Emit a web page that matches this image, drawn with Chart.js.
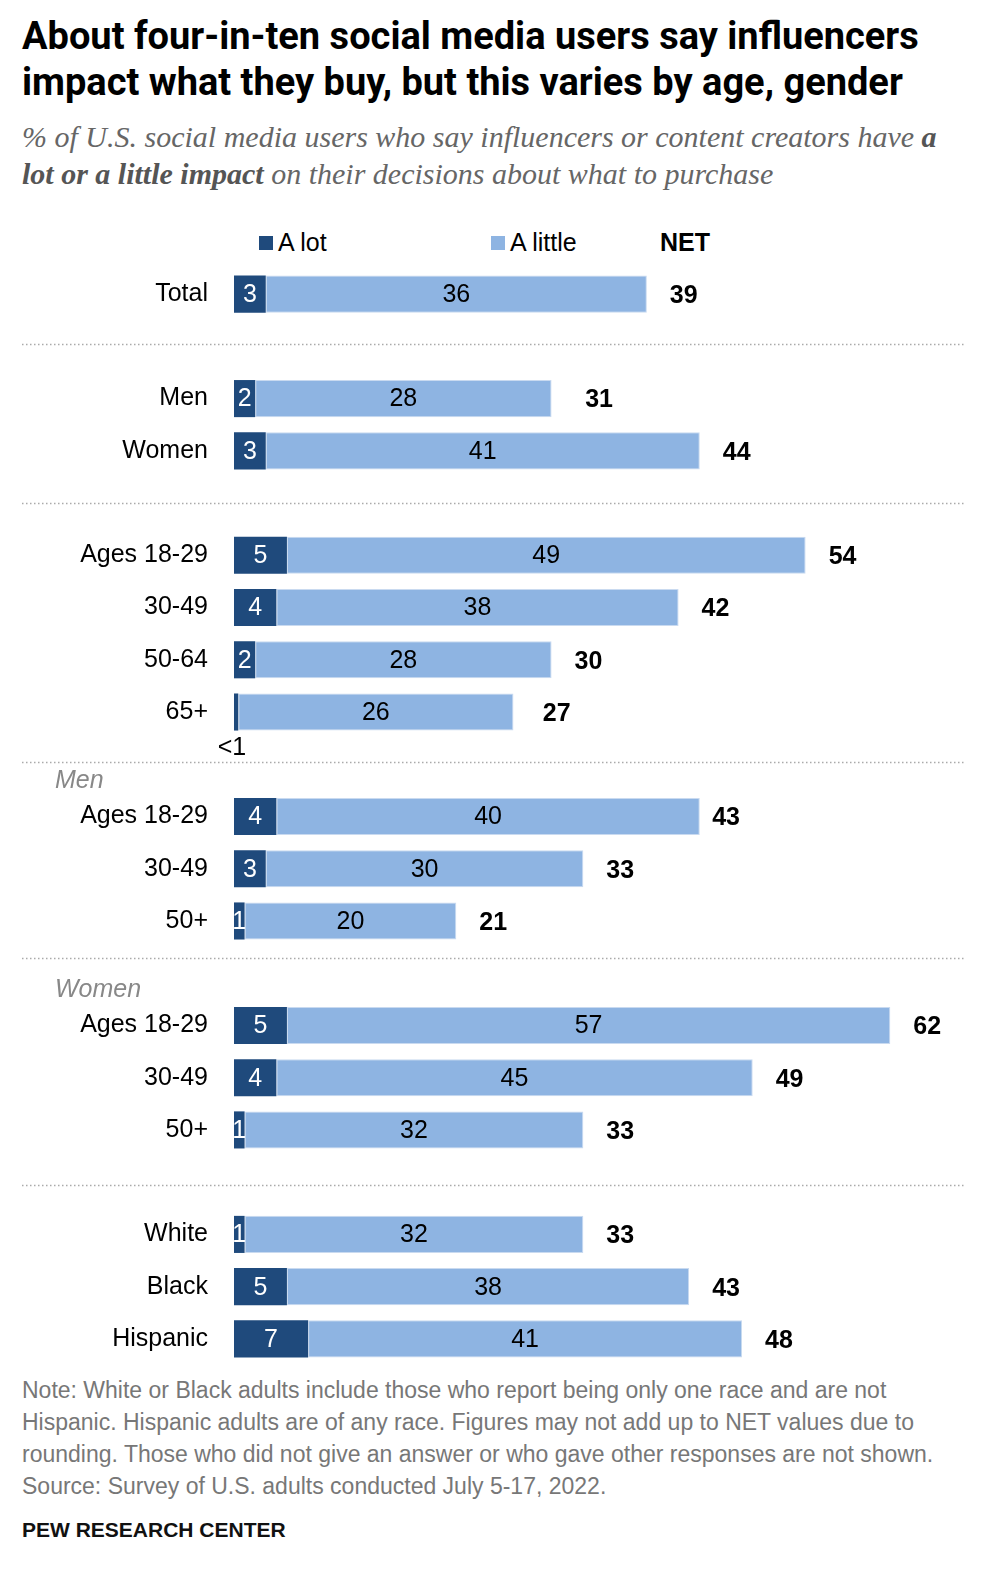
<!DOCTYPE html>
<html>
<head>
<meta charset="utf-8">
<script src="https://cdn.jsdelivr.net/npm/chart.js@4.4.0/dist/chart.umd.min.js"></script>
<style>
  body { margin: 0; background: #fff; width: 1000px; height: 1595px; position: relative; overflow: hidden; }
  .title { position: absolute; left: 22px; top: 13px; font-family: "Roboto", sans-serif; font-weight: bold; font-size: 38px; line-height: 46px; color: #000; white-space: nowrap; }
  .subtitle { position: absolute; left: 22px; top: 118px; font-family: "Liberation Serif", serif; font-style: italic; font-size: 30px; line-height: 37px; color: #666; white-space: nowrap; }
  .subtitle b { color: #555; }
  .legend { position: absolute; top: 228px; font-family: "Liberation Sans", Arial, sans-serif; font-size: 25px; color: #000; white-space: nowrap; }
  .legend .sw { display: inline-block; width: 14px; height: 14px; margin-right: 5px; vertical-align: 1px; }
  .note { position: absolute; left: 22px; top: 1374px; font-family: "Liberation Sans", sans-serif; font-size: 23px; line-height: 32px; color: #777; white-space: nowrap; }
  .brand { position: absolute; left: 22px; top: 1518px; font-family: "Liberation Sans", sans-serif; font-weight: bold; font-size: 21px; color: #111; }
  #wrap { position: absolute; left: 0; top: 268px; width: 1000px; height: 1097px; }
</style>
</head>
<body>
<div class="title">About four-in-ten social media users say influencers<br>impact what they buy, but this varies by age, gender</div>
<div class="subtitle">% of U.S. social media users who say influencers or content creators have <b>a</b><br><b>lot or a little impact</b> on their decisions about what to purchase</div>
<div class="legend" style="left:259px"><span class="sw" style="background:#1f4a7c"></span>A lot</div>
<div class="legend" style="left:491px"><span class="sw" style="background:#8eb4e2"></span>A little</div>
<div class="legend" style="left:660px;font-weight:bold">NET</div>
<div id="wrap"><canvas id="chart"></canvas></div>
<div class="note">Note: White or Black adults include those who report being only one race and are not<br>Hispanic. Hispanic adults are of any race. Figures may not add up to NET values due to<br>rounding. Those who did not give an answer or who gave other responses are not shown.<br>Source: Survey of U.S. adults conducted July 5-17, 2022.</div>
<div class="brand">PEW RESEARCH CENTER</div>
<script>
// rows; '' entries are spacer rows between groups
const categories = ['Total', '', 'Men', 'Women', '', 'Ages 18-29', '30-49', '50-64', '65+', '',
  'Ages 18-29', '30-49', '50+', '', 'Ages 18-29', '30-49', '50+', '', 'White', 'Black', 'Hispanic'];
const aLot = [3, null, 2, 3, null, 5, 4, 2, 0.4, null, 4, 3, 1, null, 5, 4, 1, null, 1, 5, 7];
const aLotLabels = ['3', '', '2', '3', '', '5', '4', '2', '<1', '', '4', '3', '1', '', '5', '4', '1', '', '1', '5', '7'];
const aLittle = [36, null, 28, 41, null, 49, 38, 28, 26, null, 40, 30, 20, null, 57, 45, 32, null, 32, 38, 41];
const net = [39, null, 31, 44, null, 54, 42, 30, 27, null, 43, 33, 21, null, 62, 49, 33, null, 33, 43, 48];

// separators sit in spacer rows; small pixel nudges
const separators = [{ row: 1, dy: -2 }, { row: 4, dy: 0 }, { row: 9, dy: -2 }, { row: 13, dy: -15 }, { row: 17, dy: 3 }];
const groupHeads = [{ row: 10, text: 'Men' }, { row: 14, text: 'Women' }];

const darkBlue = '#1f4a7c';
const lightBlue = '#8eb4e2';
const labelFont = '"Liberation Sans", Arial, sans-serif';

const extras = {
  id: 'extras',
  afterDatasetsDraw(chart) {
    const c = chart.ctx;
    const y = chart.scales.y;
    const x = chart.scales.x;
    c.save();
    // dotted separators
    c.strokeStyle = '#aaa';
    c.lineWidth = 1.5;
    c.setLineDash([1.5, 2.5]);
    separators.forEach(s => {
      const py = Math.round(y.getPixelForValue(s.row) + s.dy) + 0.5;
      c.beginPath();
      c.moveTo(22, py);
      c.lineTo(965, py);
      c.stroke();
    });
    c.setLineDash([]);

    // group heads
    c.font = 'italic 25px ' + labelFont;
    c.fillStyle = '#888';
    c.textAlign = 'left';
    c.textBaseline = 'middle';
    groupHeads.forEach(g => {
      c.fillText(g.text, 55, y.getPixelForValue(g.row) - 35);
    });

    // bar labels
    const m0 = chart.getDatasetMeta(0);
    const m1 = chart.getDatasetMeta(1);
    categories.forEach((cat, i) => {
      if (aLot[i] == null) return;
      const b0 = m0.data[i];
      const b1 = m1.data[i];
      c.font = '25px ' + labelFont;
      c.textAlign = 'center';
      if (aLotLabels[i] === '<1') {
        c.fillStyle = '#000';
        c.fillText('<1', b0.base - 2, b0.y + 36);
      } else {
        c.fillStyle = '#fff';
        c.fillText(aLotLabels[i], (b0.base + b0.x) / 2, b0.y + 1);
      }
      c.fillStyle = '#000';
      c.fillText(String(aLittle[i]), (b1.base + b1.x) / 2, b1.y + 1);
      c.font = 'bold 25px ' + labelFont;
      c.textAlign = 'left';
      c.fillText(String(net[i]), x.getPixelForValue(net[i]) + 23, b1.y + 2);
    });
    c.restore();
  }
};

new Chart(document.getElementById('chart'), {
  type: 'bar',
  data: {
    labels: categories,
    datasets: [
      { label: 'A lot', data: aLot, backgroundColor: darkBlue, borderWidth: 0 },
      { label: 'A little', data: aLittle, backgroundColor: lightBlue, borderColor: '#c9daf0', borderWidth: 1, borderSkipped: false }
    ]
  },
  options: {
    indexAxis: 'y',
    responsive: true,
    maintainAspectRatio: false,
    animation: false,
    layout: { padding: { left: 0, right: 25, top: 0, bottom: 0 } },
    datasets: { bar: { categoryPercentage: 1, barPercentage: 0.71 } },
    plugins: { legend: { display: false }, tooltip: { enabled: false } },
    scales: {
      x: { stacked: true, min: 0, max: 70, display: false },
      y: {
        stacked: true,
        grid: { display: false, drawTicks: false },
        border: { display: false },
        afterFit(scale) {
          scale.width = 234;
          scale.paddingTop = 0;
          scale.paddingBottom = 0;
        },
        ticks: {
          autoSkip: false,
          padding: 26,
          color: '#000',
          font: { family: labelFont, size: 25 }
        }
      }
    }
  },
  plugins: [extras]
});
</script>
</body>
</html>
